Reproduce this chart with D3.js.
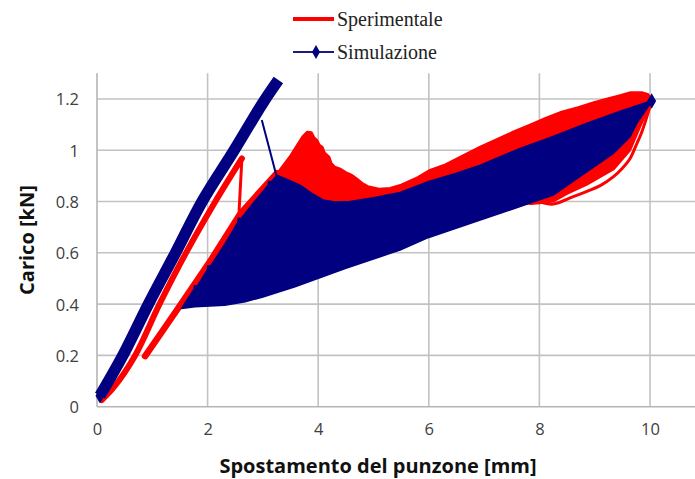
<!DOCTYPE html>
<html>
<head>
<meta charset="utf-8">
<script src="https://cdn.jsdelivr.net/npm/d3@7"></script>
<style>
  html, body { margin: 0; padding: 0; background: #fff; }
  svg { display: block; }
</style>
</head>
<body>
<svg id="chart" width="695" height="479"></svg>
<script>
// Axis ticks
const xTicks = [0, 2, 4, 6, 8, 10];
const yTicks = [0, 0.2, 0.4, 0.6, 0.8, 1, 1.2];

// Sperimentale: first loading ramp [x mm, kN]
const expLoad = [[0.085, 0.026], [0.3, 0.075], [0.69, 0.2], [1.13, 0.4], [1.61, 0.6], [2.14, 0.8], [2.62, 0.968]];
// Sperimentale: load drop after the first peak
const expDrop = [[2.62, 0.968], [2.57, 0.765]];
// Sperimentale: reloading branch
const expReload = [[0.87, 0.197], [1.2, 0.3], [1.47, 0.385], [2.07, 0.575], [2.6, 0.755], [3.25, 0.91]];
// Sperimentale: cyclic band outline (upper envelope, then lower envelope back)
const expBandUpper = [[3.15, 0.88], [3.5, 0.98], [3.72, 1.055], [3.8, 1.072], [3.88, 1.07], [3.93, 1.05], [3.98, 1.04], [4.03, 1.02], [4.08, 1.012], [4.12, 0.99], [4.2, 0.975], [4.24, 0.95], [4.3, 0.936], [4.4, 0.928], [4.5, 0.915], [4.6, 0.905], [4.7, 0.89], [4.8, 0.872], [4.9, 0.86], [5.1, 0.85], [5.3, 0.853], [5.5, 0.866], [5.8, 0.895], [6.02, 0.923], [6.3, 0.945], [6.6, 0.978], [6.93, 1.014], [7.2, 1.04], [7.5, 1.07], [7.83, 1.1], [8.1, 1.125], [8.4, 1.15], [8.7, 1.168], [9.0, 1.188], [9.25, 1.203], [9.46, 1.215], [9.65, 1.226], [9.85, 1.226], [9.97, 1.218], [10.03, 1.195]];
const expBandLower = [[10.03, 1.19], [9.82, 1.09], [9.64, 1.0], [9.34, 0.925], [8.86, 0.866], [8.5, 0.83], [8.25, 0.8], [8.0, 0.793], [7.85, 0.79], [7.5, 0.8], [6.0, 0.7], [4.5, 0.6], [3.0, 0.6]];
// Sperimentale: outer unloading loop at the end of the test
const expLoop = [[8.0, 0.8], [8.25, 0.79], [8.6, 0.818], [8.86, 0.84], [9.1, 0.862], [9.34, 0.897], [9.5, 0.93], [9.64, 0.968], [9.75, 1.02], [9.85, 1.07], [10.0, 1.17]];

// Simulazione: first loading ramp
const simLoad = [[0.054, 0.043], [0.48, 0.205], [0.93, 0.4], [1.42, 0.6], [1.9, 0.8], [2.48, 1.0], [3.0, 1.185], [3.28, 1.274]];
// Simulazione: start-up points below the ramp
const simStart = [[0.054, 0.043], [0.175, 0.091], [0.235, 0.117]];
// Simulazione: drop after the peak
const simDrop = [[2.98, 1.118], [3.25, 0.897]];
// Simulazione: cyclic band outline (upper, lower right-to-left, left edge upward)
const simBandUpper = [[3.25, 0.903], [3.45, 0.885], [3.67, 0.864], [3.9, 0.83], [4.09, 0.806], [4.3, 0.798], [4.57, 0.8], [5.0, 0.815], [5.48, 0.835], [6.0, 0.878], [6.5, 0.91], [6.93, 0.942], [7.65, 1.007], [8.2, 1.05], [8.86, 1.105], [9.5, 1.155], [10.03, 1.193]];
const simBandLower = [[10.03, 1.19], [9.76, 1.105], [9.64, 1.053], [9.46, 1.014], [9.34, 0.988], [8.73, 0.897], [8.25, 0.825], [7.65, 0.78], [6.93, 0.728], [6.0, 0.66], [5.48, 0.611], [5.12, 0.585], [4.5, 0.54], [3.58, 0.468], [3.0, 0.428], [2.68, 0.409], [2.31, 0.396], [1.77, 0.39], [1.53, 0.383]];
const simBandLeft = [[1.53, 0.383], [1.76, 0.46], [1.76, 0.472], [1.82, 0.472], [2.0, 0.535], [2.0, 0.55], [2.06, 0.55], [2.3, 0.63], [2.55, 0.72], [2.55, 0.735], [2.61, 0.735], [2.85, 0.8], [3.1, 0.865], [3.1, 0.878], [3.16, 0.878], [3.25, 0.903]];
const simEnd = [[10.03, 1.192]];

const RED = "#ff0000";
const NAVY = "#000080";
const SANS = "'Open Sans', Carlito, sans-serif";

const svg = d3.select("#chart");
const x = d3.scaleLinear().domain([0, 10]).range([97, 650]);
const y = d3.scaleLinear().domain([0, 1.3]).range([406.7, 73.3]);
const plotRight = 695;

const line = d3.line().x(d => x(d[0])).y(d => y(d[1]));
const smooth = d3.line().x(d => x(d[0])).y(d => y(d[1])).curve(d3.curveCatmullRom);

// Gridlines
const grid = svg.append("g");
grid.selectAll("line.h").data(yTicks.filter(v => v > 0)).join("line")
  .attr("x1", x(0)).attr("x2", plotRight)
  .attr("y1", d => y(d)).attr("y2", d => y(d))
  .attr("stroke", "#c2c2c2").attr("stroke-width", 1.6);
grid.selectAll("line.v").data(xTicks.filter(v => v > 0)).join("line")
  .attr("x1", d => x(d)).attr("x2", d => x(d))
  .attr("y1", y(1.3)).attr("y2", y(0))
  .attr("stroke", "#c2c2c2").attr("stroke-width", 1.6);

// Axis lines and tick labels
const xAxis = svg.append("g").attr("transform", `translate(0,${y(0)})`)
  .call(d3.axisBottom(x).tickValues(xTicks).tickSize(0).tickPadding(17).tickFormat(d3.format("d")));
xAxis.select(".domain").attr("d", `M${x(0)},0H${plotRight}`).attr("stroke", "#b5b5b5").attr("stroke-width", 1.6);
const yAxis = svg.append("g").attr("transform", `translate(${x(0)},0)`)
  .call(d3.axisLeft(y).tickValues(yTicks).tickSize(0).tickPadding(18).tickFormat(d => d === 0 ? "0" : (d === 1 ? "1" : d3.format(".1f")(d))));
yAxis.select(".domain").attr("d", `M0,${y(1.3)}V${y(0)}`).attr("stroke", "#b5b5b5").attr("stroke-width", 1.6);
svg.selectAll(".tick text")
  .attr("font-family", SANS).attr("font-size", 16.5).attr("fill", "#404040");
yAxis.selectAll(".tick text").attr("dy", "0.36em");

// Axis titles
svg.append("text").attr("x", 378).attr("y", 473).attr("text-anchor", "middle")
  .attr("font-family", SANS).attr("font-weight", "bold").attr("font-size", 20).attr("fill", "#111")
  .text("Spostamento del punzone [mm]");
svg.append("text").attr("transform", "translate(34,240) rotate(-90)").attr("text-anchor", "middle")
  .attr("font-family", SANS).attr("font-weight", "bold").attr("font-size", 20).attr("fill", "#111")
  .text("Carico [kN]");

// Sperimentale
const plot = svg.append("g");
plot.append("path").datum(expBandUpper.concat(expBandLower))
  .attr("d", d => line(d) + "Z").attr("fill", RED).attr("stroke", RED).attr("stroke-width", 2).attr("stroke-linejoin", "round");
plot.append("path").datum(expLoop).attr("d", smooth).attr("fill", "none").attr("stroke", RED).attr("stroke-width", 3).attr("stroke-linejoin", "round");
plot.append("path").datum(expReload).attr("d", line).attr("fill", "none").attr("stroke", RED).attr("stroke-width", 6.5).attr("stroke-linecap", "round").attr("stroke-linejoin", "round");
plot.append("path").datum(expLoad).attr("d", smooth).attr("fill", "none").attr("stroke", RED).attr("stroke-width", 6).attr("stroke-linecap", "round").attr("stroke-linejoin", "round");
plot.append("path").datum(expDrop).attr("d", line).attr("fill", "none").attr("stroke", RED).attr("stroke-width", 3).attr("stroke-linecap", "round");

// Simulazione
plot.append("path").datum(simBandUpper.concat(simBandLower, simBandLeft))
  .attr("d", d => line(d) + "Z").attr("fill", NAVY).attr("stroke", NAVY).attr("stroke-width", 1.5).attr("stroke-linejoin", "round");
plot.append("path").datum(simLoad).attr("d", smooth).attr("fill", "none").attr("stroke", NAVY).attr("stroke-width", 11.5);
plot.append("path").datum(simDrop).attr("d", line).attr("fill", "none").attr("stroke", NAVY).attr("stroke-width", 2);
const diamond = d3.symbol().type(d3.symbolDiamond).size(70);
plot.selectAll("path.mk").data(simStart.concat(simEnd)).join("path")
  .attr("transform", d => `translate(${x(d[0])},${y(d[1])})`).attr("d", diamond).attr("fill", NAVY);

// Legend
const legend = svg.append("g").attr("font-family", "'Liberation Serif', 'Times New Roman', serif").attr("font-size", 20).attr("fill", "#222");
legend.append("line").attr("x1", 293).attr("x2", 334).attr("y1", 19).attr("y2", 19).attr("stroke", RED).attr("stroke-width", 4);
legend.append("text").attr("x", 337).attr("y", 26).text("Sperimentale");
legend.append("line").attr("x1", 293).attr("x2", 334).attr("y1", 52).attr("y2", 52).attr("stroke", "#1a1a80").attr("stroke-width", 2);
legend.append("path").attr("transform", "translate(316,52)").attr("d", d3.symbol().type(d3.symbolDiamond).size(55)).attr("fill", NAVY);
legend.append("text").attr("x", 337).attr("y", 59).text("Simulazione");
</script>
</body>
</html>
